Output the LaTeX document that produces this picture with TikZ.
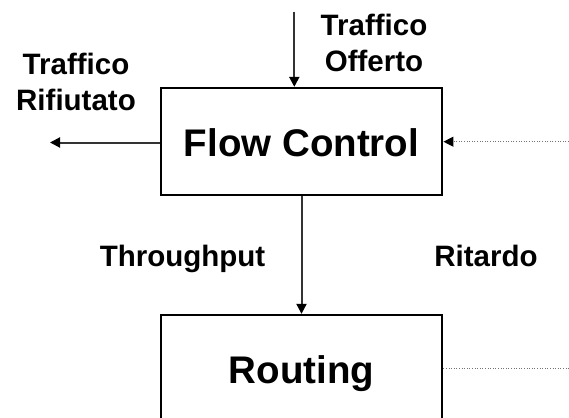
\documentclass[tikz,border=0pt]{standalone}
\usepackage{fontspec}
\setmainfont{Liberation Sans}
\usetikzlibrary{arrows.meta}
\begin{document}
\begin{tikzpicture}[x=1pt,y=-1pt,
  blockbox/.style={draw=black,line width=2.3pt,minimum width=281.6pt,minimum height=107pt,inner sep=0pt,
    font=\fontsize{38.5}{44}\selectfont\bfseries,text height=30pt,text depth=0pt},
  lbl/.style={font=\fontsize{29.5}{36}\selectfont\bfseries,align=center,inner sep=0pt},
  arr/.style={line width=2pt,draw=black!80,-{Triangle[length=10pt,width=10pt,black]}},
  dotarr/.style={line width=1.2pt,draw=black!55,dash pattern=on 1pt off 1.6pt,-{Triangle[length=10pt,width=10pt,black]}},
  dotline/.style={line width=1.2pt,draw=black!55,dash pattern=on 1pt off 1.6pt}]
\useasboundingbox (0,0) rectangle (569,417);
\node[blockbox] (fc) at (301.5,141.5) {Flow Control};
\node[blockbox] (rt) at (301.5,368.5) {Routing};
\node[lbl] (offerto) at (374,42.6) {Traffico\\Offerto};
\node[lbl] (rifiutato) at (76,81.6) {Traffico\\Rifiutato};
\node[lbl,anchor=base] (thr) at (182.5,266.7) {Throughput};
\node[lbl,anchor=base] (rit) at (486,266.7) {Ritardo};
\coordinate (in) at (294.3,11.7);
\coordinate (rej) at (50,142.5);
\coordinate (fb) at (569,141.7);
\coordinate (fbr) at (569,368.3);
\draw[arr] (in) -- (in |- fc.north);
\draw[arr] (fc.west |- rej) -- (rej);
\draw[arr] (fc.south) -- (rt.north);
\draw[dotarr] (fb) -- (fc.east |- fb);
\draw[dotline] (rt.east |- fbr) -- (fbr);
\end{tikzpicture}
\end{document}
